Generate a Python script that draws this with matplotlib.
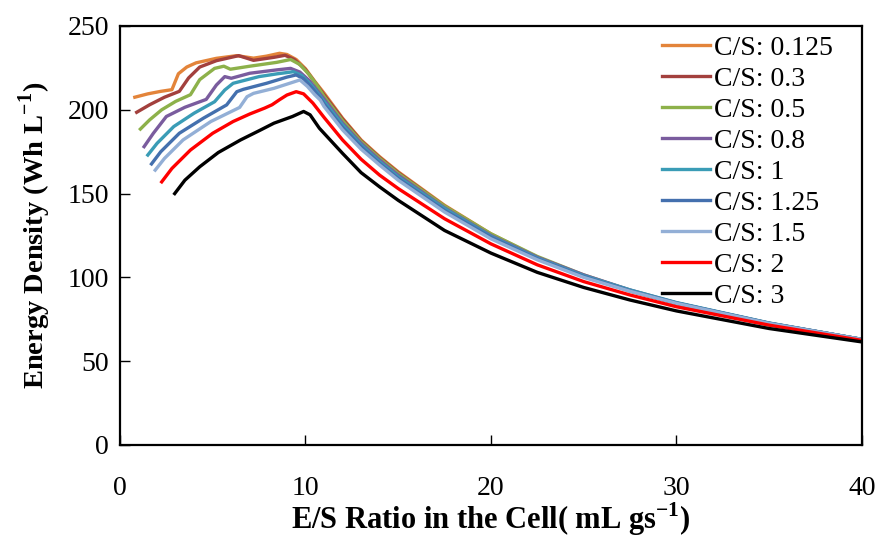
import matplotlib.pyplot as plt

plt.rcParams['font.family'] = ['Liberation Serif', 'DejaVu Serif']
plt.rcParams['mathtext.fontset'] = 'custom'
plt.rcParams['mathtext.rm'] = 'Liberation Serif'
plt.rcParams['mathtext.bf'] = 'Liberation Serif:bold'

# shared tail x (descending part after the peak)
tail_x = [11, 12, 13, 14, 15, 17.5, 20, 22.5, 25, 27.5, 30, 35, 40]

labels = ['C/S: 0.125', 'C/S: 0.3', 'C/S: 0.5', 'C/S: 0.8', 'C/S: 1',
          'C/S: 1.25', 'C/S: 1.5', 'C/S: 2', 'C/S: 3']
colors = ['#E3843A', '#A3403D', '#8DB14A', '#7A5C9E', '#3A9CB6',
          '#4470AE', '#93AFD6', '#FF0000', '#000000']

# rising part + peak for each curve
x_0125 = [0.8, 1.5, 2.2, 2.8, 3.15, 3.6, 4.1, 5.2, 6.3, 7.2, 7.9, 8.6, 9.0, 9.5, 10.0, 10.5]
y_0125 = [207.5, 209.5, 211, 212, 221.5, 225.5, 228, 230.7, 232.3, 230.8, 232, 233.7, 233, 230, 224.5, 217]
x_03 = [0.9, 1.6, 2.4, 3.2, 3.7, 4.3, 5.2, 6.4, 7.2, 8.3, 8.9, 9.4, 10.0, 10.5]
y_03 = [198.5, 203, 207.5, 211, 219, 225.5, 229.3, 232.3, 229.5, 231.3, 232.5, 230, 224, 216.5]
x_05 = [1.1, 1.6, 2.25, 3.0, 3.8, 4.3, 5.1, 5.6, 5.95, 7.0, 8.45, 9.2, 9.7, 10.2, 10.6]
y_05 = [188.5, 194, 200, 205, 209, 218, 224.7, 226, 224.2, 226, 228.3, 230, 227, 221, 215]
x_08 = [1.3, 1.8, 2.5, 3.5, 4.65, 5.2, 5.65, 6.0, 7.0, 8.45, 9.2, 9.7, 10.2, 10.6]
y_08 = [178, 186, 196, 201.5, 206.2, 214.8, 219.8, 218.8, 221.8, 223.8, 224.7, 222.5, 217.5, 212]
x_1 = [1.5, 2.0, 2.9, 4.0, 5.1, 5.65, 6.1, 7.5, 8.5, 9.35, 9.8, 10.3, 10.7]
y_1 = [173, 180, 190, 198, 204.8, 211.8, 215.8, 219.8, 221.5, 222.7, 220.5, 215, 209.5]
x_125 = [1.7, 2.2, 3.2, 4.5, 5.75, 6.3, 6.65, 7.9, 9.0, 9.5, 9.9, 10.4, 10.8]
y_125 = [167.7, 175, 186, 195, 202.9, 210.8, 212.2, 215.8, 219.5, 220.8, 218.5, 212.5, 207]
x_15 = [1.9, 2.4, 3.4, 4.9, 6.45, 6.85, 7.2, 8.3, 9.2, 9.7, 10.1, 10.5, 10.8]
y_15 = [164, 171, 182, 193, 201.4, 207.8, 209.8, 212.8, 216, 217.8, 214, 209, 205.8]
x_2 = [2.25, 2.8, 3.8, 5.0, 6.1, 7.0, 7.8, 8.2, 8.6, 9.0, 9.5, 9.9, 10.4]
y_2 = [157, 165, 176, 186, 193, 197.5, 201, 203, 206, 208.8, 210.8, 209.5, 204]
x_3 = [2.95, 3.5, 4.3, 5.3, 6.5, 7.5, 8.3, 9.3, 9.9, 10.25, 10.75]
y_3 = [150, 158, 166, 174.5, 182, 187.5, 192, 196, 199, 197, 189]

# tail values at tail_x
t_0125 = [210, 195, 182, 172, 163, 143, 126, 112, 101, 92, 84.5, 72.5, 63]
t_03 = [209, 194.5, 181.5, 171.5, 162.5, 142.5, 125.5, 112, 101, 92, 84.5, 72.5, 63]
t_05 = [208, 193.5, 181, 171, 162, 142.5, 126, 112.5, 101.5, 92.3, 84.7, 72.6, 63]
t_08 = [206.5, 192, 180, 170, 161, 141.5, 125, 112, 101.5, 92.5, 84.8, 72.7, 63]
t_1 = [205, 191, 179, 169, 160, 141, 124.5, 111.5, 101, 92.5, 85, 72.8, 63]
t_125 = [203.5, 189.5, 178, 168, 159, 140, 124, 111, 100.5, 92, 84.7, 72.6, 63]
t_15 = [202, 188, 176.5, 167, 158, 139, 123, 110.5, 100, 91.7, 84.5, 72.5, 63]
t_2 = [195.5, 182, 170.5, 161, 153, 135, 120, 107.5, 97.5, 89.5, 82.5, 71.5, 62.4]
t_3 = [186, 174, 162.5, 154, 146, 128, 114.5, 103, 94, 86.5, 80, 69.5, 61.5]

rise_x = [x_0125, x_03, x_05, x_08, x_1, x_125, x_15, x_2, x_3]
rise_y = [y_0125, y_03, y_05, y_08, y_1, y_125, y_15, y_2, y_3]
tails = [t_0125, t_03, t_05, t_08, t_1, t_125, t_15, t_2, t_3]

fig = plt.figure(figsize=(8.79, 5.39), dpi=100)
ax = fig.add_axes([0.1365, 0.1744, 0.844, 0.7774])

for xs, ys, ts, c, lab in zip(rise_x, rise_y, tails, colors, labels):
    ax.plot(xs + tail_x, ys + ts, color=c, lw=2.4, label=lab, solid_joinstyle='round')

ax.set_xlim(0, 40)
ax.set_ylim(0, 250)
ax.set_xticks([0, 10, 20, 30, 40])
ax.set_yticks([0, 50, 100, 150, 200, 250])
ax.tick_params(axis='both', direction='in', length=7, width=1, labelsize=20)
ax.tick_params(axis='x', pad=22)
ax.tick_params(axis='y', pad=8)
for s in ax.spines.values():
    s.set_linewidth(1.6)

ax.set_xlabel('E/S Ratio in the Cell( mL gs$^{\\mathbf{-1}}$)', fontsize=22,
              fontweight='bold', labelpad=0)
ax.set_ylabel('Energy Density (Wh L$^{\\mathbf{-1}}$)', fontsize=20.5,
              fontweight='bold', labelpad=10)

ax.legend(loc='upper left', bbox_to_anchor=(0.73, 0.978), frameon=False,
          fontsize=20, handlelength=1.75, handletextpad=0.15, labelspacing=0.2,
          borderpad=0, borderaxespad=0)

fig.savefig('out.png', dpi=100)
